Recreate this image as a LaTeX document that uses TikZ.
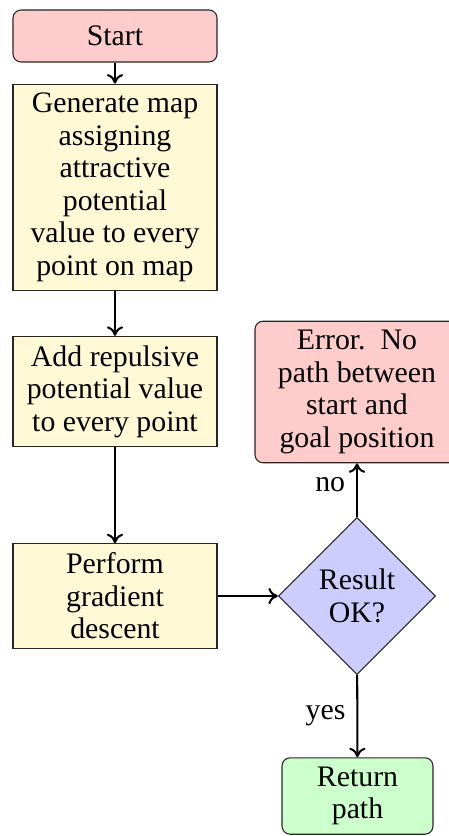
\documentclass[tikz,border=0pt]{standalone}
\usepackage{fontspec}
\setmainfont{Liberation Serif}
\usetikzlibrary{shapes.geometric,arrows.meta}
\definecolor{boxyellow}{RGB}{255,249,214}
\begin{document}
\begin{tikzpicture}[x=0.369pt,y=-0.369pt,
  base/.style={draw=black!85, align=center, inner sep=3.33pt, font=\fontsize{11}{12}\selectfont},
  startbox/.style={base, rounded corners=3pt, fill=red!20, minimum width=75.3pt, minimum height=19.2pt},
  procbox/.style={base, fill=boxyellow, minimum width=75.3pt},
  errbox/.style={base, rounded corners=3pt, fill=red!20, minimum width=75.3pt},
  decision/.style={base, diamond, aspect=1, fill=blue!20, minimum width=58pt, minimum height=58pt, inner sep=0.5pt},
  retbox/.style={base, rounded corners=3pt, fill=green!20, minimum width=55.7pt},
  lbl/.style={left, inner sep=4pt, font=\fontsize{11}{12}\selectfont},
  arrow/.style={-{To[length=3.5pt,width=6pt]}, line width=0.75pt}
]
\useasboundingbox (0,0) rectangle (448,836);
\node[startbox] (start) at (115,36) {Start};
\node[procbox] (gen) at (115,187.5) {Generate map\\assigning\\attractive\\potential\\value to every\\point on map};
\node[procbox] (add) at (115,391.5) {Add repulsive\\potential value\\to every point};
\node[procbox] (grad) at (115,596) {Perform\\gradient\\descent};
\node[decision] (ok) at (357,596) {Result\\OK?};
\node[errbox] (err) at (357,392) {Error.\ \ No\\path between\\start and\\goal position};
\node[retbox] (ret) at (357.5,796) {Return\\path};
\draw[arrow] (start) -- (gen);
\draw[arrow] (gen) -- (add);
\draw[arrow] (add) -- (grad);
\draw[arrow] (grad) -- (ok);
\draw[arrow] (ok) -- node[lbl, yshift=2pt] {no} (err);
\draw[arrow] (ok) -- node[lbl] {yes} (ret);
\end{tikzpicture}
\end{document}
